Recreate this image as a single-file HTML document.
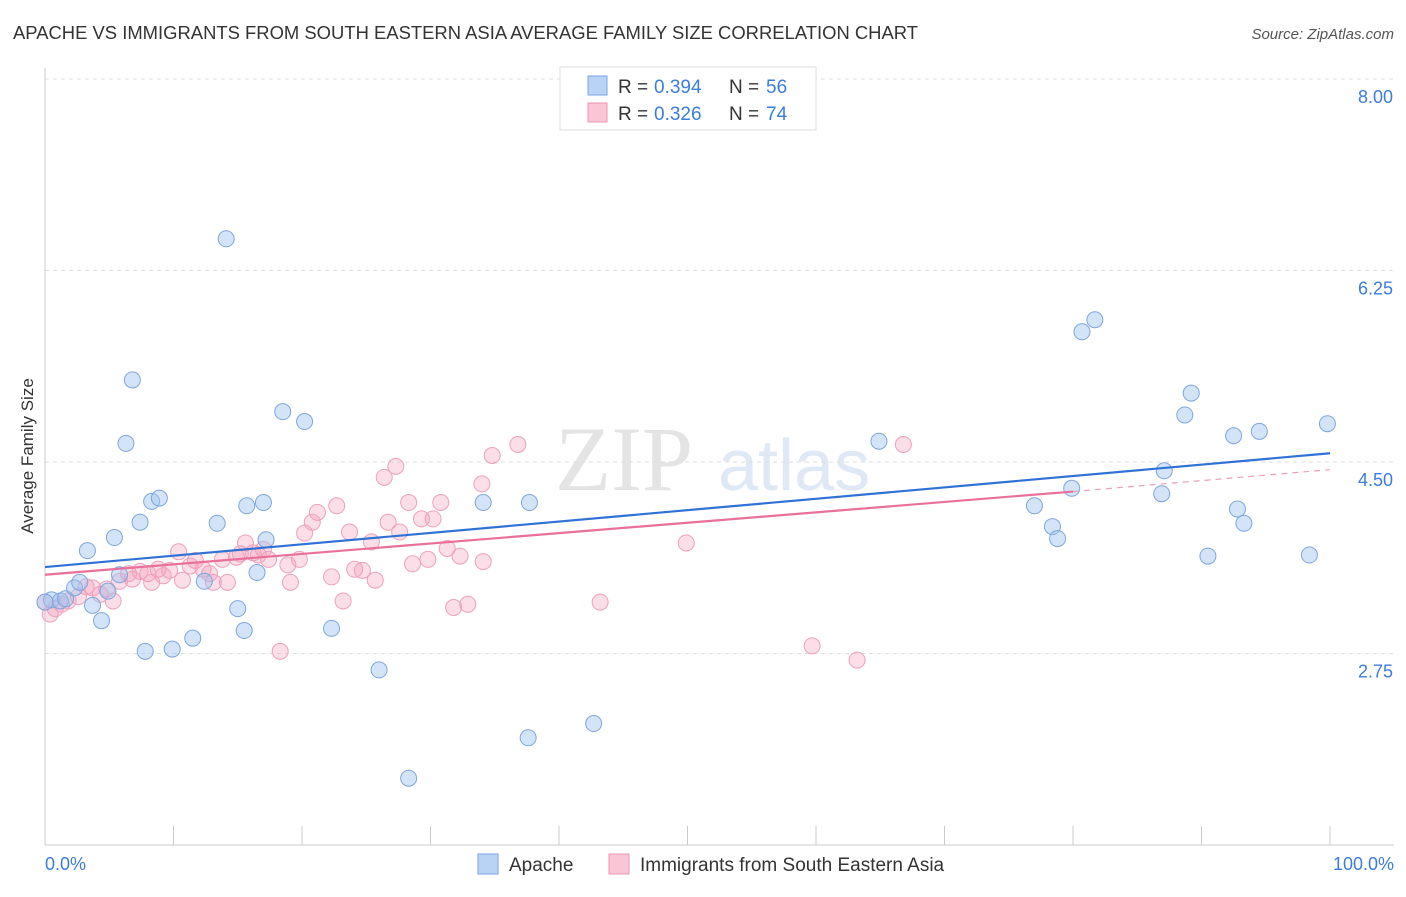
<!DOCTYPE html>
<html><head><meta charset="utf-8"><style>
body{margin:0;background:#fff;font-family:"Liberation Sans",sans-serif}
</style></head><body>
<svg width="1406" height="892" xmlns="http://www.w3.org/2000/svg" id="svg">
<text x="13" y="39" font-size="18" fill="#333" textLength="905" lengthAdjust="spacingAndGlyphs">APACHE VS IMMIGRANTS FROM SOUTH EASTERN ASIA AVERAGE FAMILY SIZE CORRELATION CHART</text>
<text x="1394" y="39" font-size="15" fill="#555" font-style="italic" text-anchor="end">Source: ZipAtlas.com</text>
<text x="555" y="490" font-size="92" fill="#e4e4e4" font-family="Liberation Serif">ZIP</text>
<text x="718" y="490" font-size="72" fill="#dfe8f5">atlas</text>
<text transform="translate(33,456) rotate(-90)" font-size="17" fill="#333" text-anchor="middle">Average Family Size</text>
<g id="grid"></g><g id="marks"></g>
<g>
<rect x="560" y="67" width="256" height="63" fill="#fff" stroke="#ddd"/>
<rect x="588" y="76" width="19" height="19" fill="#b9d3f5" stroke="#7aa6e0"/>
<rect x="588" y="103" width="19" height="19" fill="#f9c6d6" stroke="#ec94b1"/>
<text x="618" y="93" font-size="19" fill="#333">R =</text><text x="654" y="93" font-size="19" fill="#3b7ddd">0.394</text>
<text x="729" y="93" font-size="19" fill="#333">N =</text><text x="766" y="93" font-size="19" fill="#3b7ddd">56</text>
<text x="618" y="120" font-size="19" fill="#333">R =</text><text x="654" y="120" font-size="19" fill="#3b7ddd">0.326</text>
<text x="729" y="120" font-size="19" fill="#333">N =</text><text x="766" y="120" font-size="19" fill="#3b7ddd">74</text>
</g>
<g>
<rect x="478" y="854" width="20" height="20" fill="#b9d3f5" stroke="#7aa6e0"/>
<text x="509" y="871" font-size="19" fill="#333">Apache</text>
<rect x="609" y="854" width="20" height="20" fill="#f9c6d6" stroke="#ec94b1"/>
<text x="640" y="871" font-size="19" fill="#333">Immigrants from South Eastern Asia</text>
</g>
<text x="45" y="870" font-size="18" fill="#3b7ddd">0.0%</text>
<text x="1394" y="870" font-size="18" fill="#3b7ddd" text-anchor="end">100.0%</text>
</svg>
<script>
const yTicks=[8.00,6.25,4.50,2.75];
const yTickLabels=["8.00","6.25","4.50","2.75"];
const apacheX=[0.5,1.2,1.6,2.3,2.7,3.3,3.7,4.4,4.9,5.4,5.8,6.3,6.8,7.4,7.8,8.3,8.9,9.9,11.5,12.4,13.4,14.1,15,15.5,15.7,16.5,17,17.2,18.5,20.2,22.3,26,28.3,34.1,37.6,37.7,42.7,64.9,77.0,78.4,78.8,79.9,80.7,81.7,86.9,87.1,88.7,89.2,90.5,92.5,92.8,93.3,94.5,98.4,99.8,0];
const apacheY=[3.24,3.23,3.25,3.35,3.40,3.69,3.19,3.05,3.32,3.81,3.47,4.67,5.25,3.95,2.77,4.14,4.17,2.79,2.89,3.41,3.94,6.54,3.16,2.96,4.10,3.49,4.13,3.79,4.96,4.87,2.98,2.60,1.61,4.13,1.98,4.13,2.11,4.69,4.10,3.91,3.80,4.26,5.69,5.80,4.21,4.42,4.93,5.13,3.64,4.74,4.07,3.94,4.78,3.65,4.85,3.22];
const seaX=[0.4,0.8,1.3,1.8,2.6,3.2,3.7,4.3,4.8,5.3,5.8,6.5,6.8,7.4,8.0,8.3,8.8,9.2,9.7,10.4,10.7,11.3,11.7,12.3,12.8,13.1,13.8,14.2,14.9,15.2,15.6,16.2,16.6,17,17.4,18.9,19.1,19.8,20.2,20.8,21.2,22.3,22.7,23.2,23.7,24.1,24.7,25.4,25.7,26.4,26.7,27.3,27.6,28.3,28.6,29.3,29.8,30.2,30.8,31.3,31.8,32.3,32.9,34,34.1,34.8,36.8,43.2,49.9,59.7,63.2,66.8,18.3,0];
const seaY=[3.11,3.16,3.20,3.23,3.27,3.36,3.35,3.29,3.34,3.23,3.41,3.48,3.43,3.50,3.48,3.40,3.52,3.46,3.51,3.68,3.42,3.55,3.60,3.52,3.48,3.40,3.61,3.40,3.63,3.66,3.76,3.67,3.65,3.70,3.61,3.56,3.40,3.61,3.85,3.95,4.04,3.45,4.10,3.23,3.86,3.52,3.51,3.77,3.42,4.36,3.95,4.46,3.86,4.13,3.57,3.98,3.61,3.98,4.13,3.71,3.17,3.64,3.20,4.30,3.59,4.56,4.66,3.22,3.76,2.82,2.69,4.66,2.77,3.22];
const blueLine=[[0,3.54],[100,4.58]];
const pinkLine=[[0,3.47],[80,4.23]];
const pinkDash=[[80,4.23],[100,4.43]];
const X=v=>45+v*12.85, Y=v=>79+(8-v)*109.43;
const NS="http://www.w3.org/2000/svg";
const grid=document.getElementById('grid'), marks=document.getElementById('marks');
function mk(tag,at,parent){const e=document.createElementNS(NS,tag);for(const k in at)e.setAttribute(k,at[k]);parent.appendChild(e);return e;}
yTicks.forEach((t,i)=>{
 const l=mk('line',{x1:45,x2:1394,y1:Y(t),y2:Y(t),stroke:'#ddd','stroke-dasharray':'4,4'},grid);
 
 
 const tx=mk('text',{x:1393,y:Y(t)+24,'font-size':18,fill:'#3b7ddd','text-anchor':'end'},grid);
 tx.textContent=yTickLabels[i];
 
 
});
const ax=mk('line',{x1:45,x2:1394,y1:845,y2:845,stroke:'#ccc'},grid);


const ay=mk('line',{x1:45,x2:45,y1:68,y2:845,stroke:'#ccc'},grid);


for(let i=0;i<=10;i++){const t=mk('line',{x1:X(i*10),x2:X(i*10),y1:826,y2:845,stroke:'#ccc'},grid);
 
 }
seaX.forEach((x,i)=>{const c=mk('circle',{cx:X(x),cy:Y(seaY[i]),r:8,fill:'rgba(244,160,190,0.35)',stroke:'#eea0bb','stroke-width':1},marks);
 
 });
apacheX.forEach((x,i)=>{const c=mk('circle',{cx:X(x),cy:Y(apacheY[i]),r:8,fill:'rgba(160,195,240,0.45)',stroke:'#7ea6dc','stroke-width':1},marks);
 
 });
function ln(p,st,w,d,name){const l=mk('line',{x1:X(p[0][0]),y1:Y(p[0][1]),x2:X(p[1][0]),y2:Y(p[1][1]),stroke:st,'stroke-width':w},marks);if(d)l.setAttribute('stroke-dasharray',d);
 
 }
ln(pinkLine,'#e8709a',2.2,null,'sea-trendline');
ln(pinkDash,'#e8a0b8',1.2,'6,5','sea-trendline-extension');
ln(blueLine,'#2f72d6',2.2,null,'apache-trendline');
</script>
</body></html>
